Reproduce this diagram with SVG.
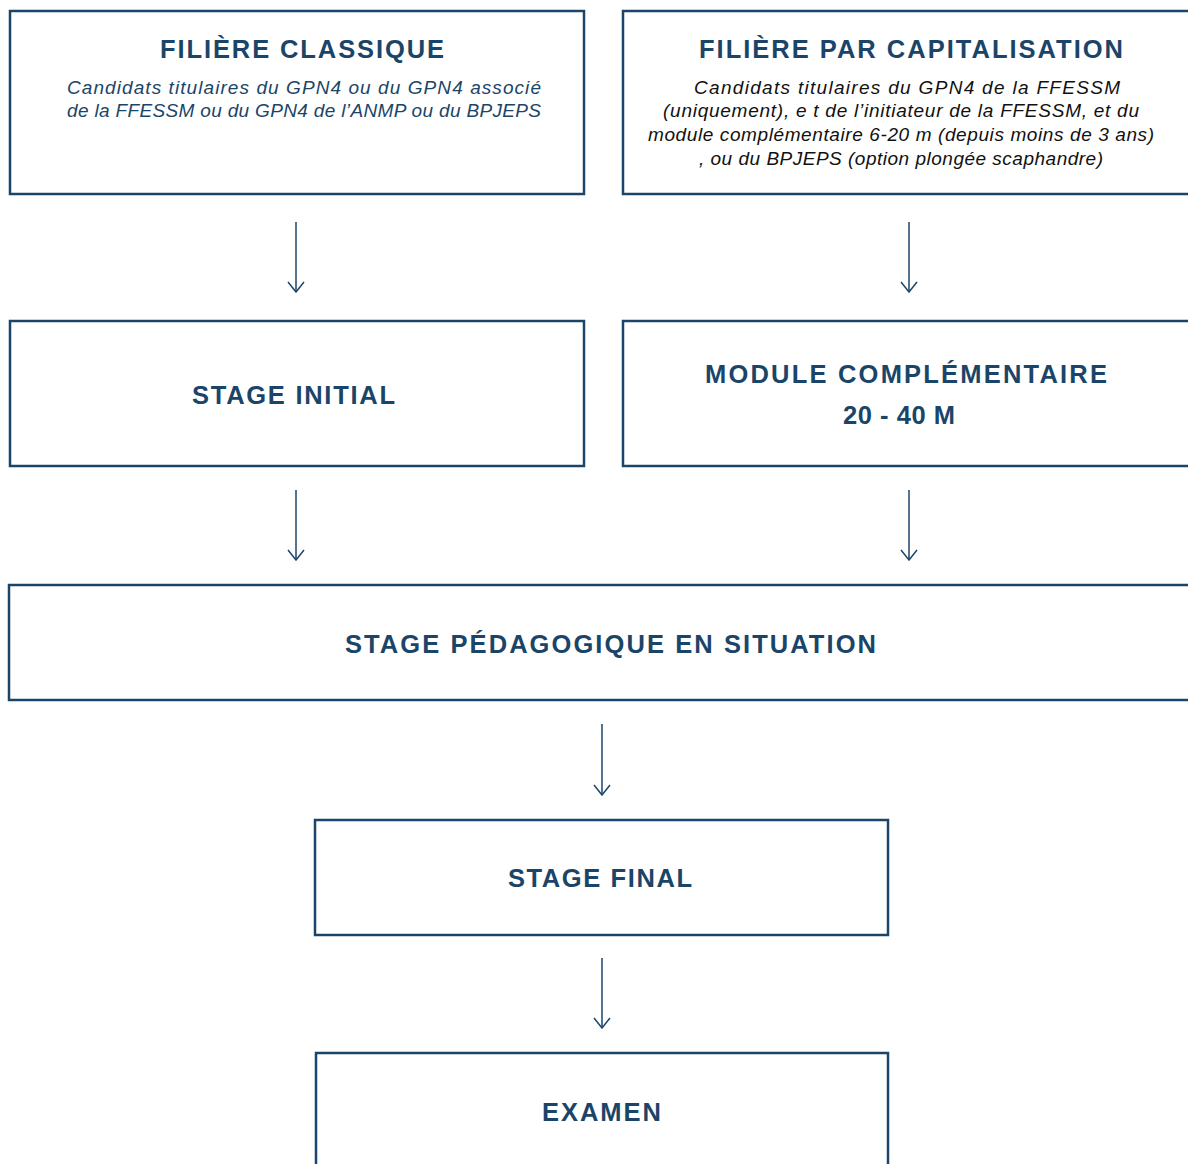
<svg xmlns="http://www.w3.org/2000/svg" width="1188" height="1164" viewBox="0 0 1188 1164">
<style>
.box{fill:#fff;stroke:#1b4568;stroke-width:2.5}
.t{font-family:"Liberation Sans",Arial,sans-serif;font-weight:bold;font-size:25.5px;fill:#1b4568}
.s{font-family:"Liberation Sans",Arial,sans-serif;font-style:italic;font-size:19px;fill:#1b4568}
.k{font-family:"Liberation Sans",Arial,sans-serif;font-style:italic;font-size:19px;fill:#111}
.c line{stroke:#1b4568;stroke-width:1.5}
</style>
<defs>
<marker id="ah" viewBox="0 0 12 18" refX="11" refY="9" markerWidth="12" markerHeight="18" markerUnits="userSpaceOnUse" orient="auto">
<path d="M1,1 L11,9 L1,17" fill="none" stroke="#1b4568" stroke-width="1.5"/>
</marker>
</defs>
<rect width="1188" height="1164" fill="#fff"/>
<g class="c">
<line x1="296" y1="222" x2="296" y2="292" marker-end="url(#ah)"/>
<line x1="909" y1="222" x2="909" y2="292" marker-end="url(#ah)"/>
<line x1="296" y1="490" x2="296" y2="560" marker-end="url(#ah)"/>
<line x1="909" y1="490" x2="909" y2="560" marker-end="url(#ah)"/>
<line x1="602" y1="724" x2="602" y2="795" marker-end="url(#ah)"/>
<line x1="602" y1="958" x2="602" y2="1028" marker-end="url(#ah)"/>
</g>
<g id="n1">
<rect class="box" x="10" y="11" width="574" height="183"/>
<text class="t" x="160" y="58" textLength="284" lengthAdjust="spacing">FILIÈRE CLASSIQUE</text>
<text class="s" x="67" y="94" textLength="474" lengthAdjust="spacing">Candidats titulaires du GPN4 ou du GPN4 associé</text>
<text class="s" x="67" y="117" textLength="474" lengthAdjust="spacing">de la FFESSM ou du GPN4 de l’ANMP ou du BPJEPS</text>
</g>
<g id="n2">
<rect class="box" x="623" y="11" width="580" height="183"/>
<text class="t" x="699" y="58" textLength="424" lengthAdjust="spacing">FILIÈRE PAR CAPITALISATION</text>
<text class="k" x="694" y="94" textLength="426" lengthAdjust="spacing">Candidats  titulaires  du  GPN4  de  la  FFESSM</text>
<text class="k" x="663" y="117" textLength="476" lengthAdjust="spacing">(uniquement),  e t   de l’initiateur de la FFESSM, et du</text>
<text class="k" x="648" y="141" textLength="506" lengthAdjust="spacing">module complémentaire  6-20 m (depuis moins de 3 ans)</text>
<text class="k" x="699" y="165" textLength="404" lengthAdjust="spacing">, ou du BPJEPS (option plongée scaphandre)</text>
</g>
<g id="n3">
<rect class="box" x="10" y="321" width="574" height="145"/>
<text class="t" x="192" y="404" textLength="203" lengthAdjust="spacing">STAGE INITIAL</text>
</g>
<g id="n4">
<rect class="box" x="623" y="321" width="580" height="145"/>
<text class="t" x="705" y="383" textLength="402" lengthAdjust="spacing">MODULE COMPLÉMENTAIRE</text>
<text class="t" x="843" y="424" textLength="112" lengthAdjust="spacing">20 - 40 M</text>
</g>
<g id="n5">
<rect class="box" x="9" y="585" width="1194" height="115"/>
<text class="t" x="345" y="653" textLength="531" lengthAdjust="spacing">STAGE PÉDAGOGIQUE EN SITUATION</text>
</g>
<g id="n6">
<rect class="box" x="315" y="820" width="573" height="115"/>
<text class="t" x="508" y="887" textLength="184" lengthAdjust="spacing">STAGE FINAL</text>
</g>
<g id="n7">
<rect class="box" x="316" y="1053" width="572" height="130"/>
<text class="t" x="542" y="1121" textLength="119" lengthAdjust="spacing">EXAMEN</text>
</g>
</svg>
